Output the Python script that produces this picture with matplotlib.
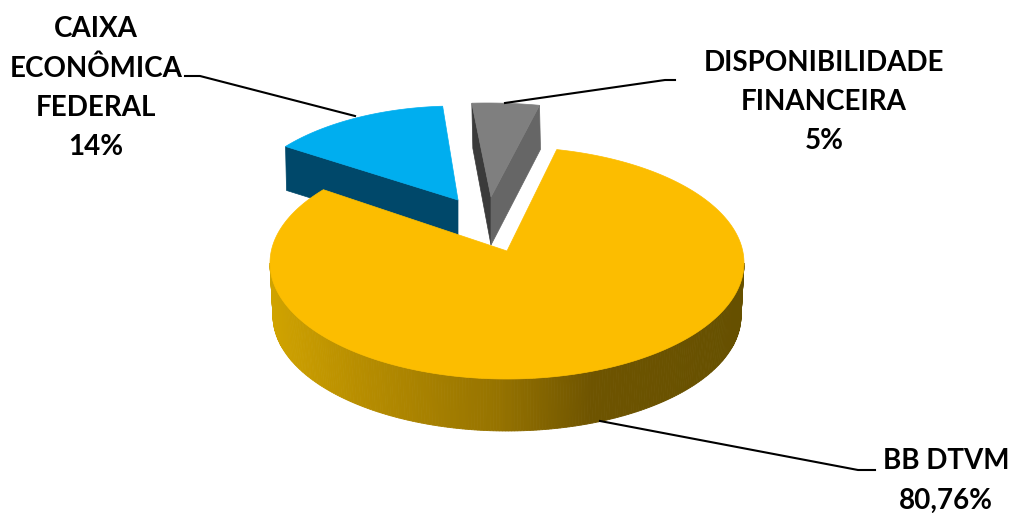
import numpy as np
import matplotlib
matplotlib.use("Agg")
import matplotlib.pyplot as plt
from matplotlib.colors import LinearSegmentedColormap

# chart data, clockwise from the start angle
names = ["BB DTVM", "CAIXA\nECONÔMICA\nFEDERAL", "DISPONIBILIDADE\nFINANCEIRA"]
shares = [80.76, 14, 5]
share_labels = ["80,76%", "14%", "5%"]

START_ANGLE = 76
WARP = 4  # perspective squeeze of the pie angles

# ellipse of each exploded slice: cx, cy, a, b, apex x, apex y, wall height
YELLOW = (507, 263, 237, 116, 507, 251, 52)
BLUE = (456, 216, 220, 110, 458, 200, 44)
GRAY = (487, 207, 250, 104, 491, 197, 48)

wall_cmap = LinearSegmentedColormap.from_list(
    "wall", [(0, "#d0a300"), (0.18, "#b88e00"), (0.48, "#967300"),
             (0.68, "#6e5400"), (1, "#665000")])


def warp(phi):
    return phi - WARP * np.sin(np.radians(2 * (phi - 90)))


def rim(geo, phi):
    cx, cy, a, b = geo[:4]
    t = np.radians(warp(np.asarray(phi, dtype=float)))
    return cx + a * np.cos(t), cy - b * np.sin(t)


def draw_top(ax, geo, phi0, phi1, color, zorder):
    x, y = rim(geo, np.linspace(phi0, phi1, 300))
    ax.fill(np.r_[geo[4], x], np.r_[geo[5], y], color=color, lw=0.5, zorder=zorder)


def draw_cut_wall(ax, geo, phi, color, zorder, taper=0):
    # flat wall between a rim corner and the apex, dropped by the wall height
    x, y = rim(geo, phi)
    ax_, ay_, h = geo[4], geo[5], geo[6]
    ax.fill([x, ax_, ax_, x + 1], [y, ay_, ay_ + h, y + h - taper],
            color=color, lw=0.5, zorder=zorder)


fig = plt.figure(figsize=(10.11, 5.13), dpi=100)
ax = fig.add_axes([0, 0, 1, 1])
ax.set_xlim(0, 1011)
ax.set_ylim(513, 0)
ax.axis("off")

fractions = np.array(shares) / np.sum(shares) * 360
end_yellow = START_ANGLE - fractions[0]
end_blue = end_yellow - fractions[1]
end_gray = end_blue - fractions[2]

# gray slice, furthest back
draw_cut_wall(ax, GRAY, end_blue, "#3b3b3b", 1, taper=3)
draw_cut_wall(ax, GRAY, end_gray, "#666666", 2, taper=4)
draw_top(ax, GRAY, end_blue, end_gray, "#7f7f7f", 3)

# blue slice
draw_cut_wall(ax, BLUE, end_yellow, "#00486a", 4)
draw_top(ax, BLUE, end_yellow, end_blue, "#00aeef", 5)

# outer wall of the big slice, shaded strip by strip
t = np.radians(np.linspace(180, 360, 240))
top_x = YELLOW[0] + YELLOW[2] * np.cos(t)
top_y = YELLOW[1] - YELLOW[3] * np.sin(t)
bot_x = YELLOW[0] + (YELLOW[2] - 3) * np.cos(t)
bot_y = YELLOW[1] + YELLOW[6] + 1 - (YELLOW[3] - 1) * np.sin(t)
for i in range(len(t) - 1):
    shade = wall_cmap((top_x[i] - top_x[0]) / (top_x[-1] - top_x[0]))
    ax.fill([top_x[i], top_x[i + 1], bot_x[i + 1], bot_x[i]],
            [top_y[i], top_y[i + 1], bot_y[i + 1], bot_y[i]],
            color=shade, lw=0.6, zorder=6)

# top of the big slice
draw_top(ax, YELLOW, START_ANGLE, end_yellow, "#fcbd00", 7)

# leader lines
ax.plot([185, 200, 355], [76, 76, 116], color="black", lw=1.5, zorder=8)
ax.plot([505, 665, 675], [103, 80, 80], color="black", lw=1.5, zorder=8)
ax.plot([600, 858, 875], [421, 470, 470], color="black", lw=1.5, zorder=8)

# labels
font = dict(family="Lato", fontweight="bold", fontsize=20, ha="center", va="center",
            color="black", linespacing=1.62, zorder=9)
ax.text(96, 88, names[1] + "\n" + share_labels[1], **font)
ax.text(824, 102, names[2] + "\n" + share_labels[2], **font)
ax.text(946, 481, names[0] + "\n" + share_labels[0], **font)

fig.savefig("out.png", dpi=100)
